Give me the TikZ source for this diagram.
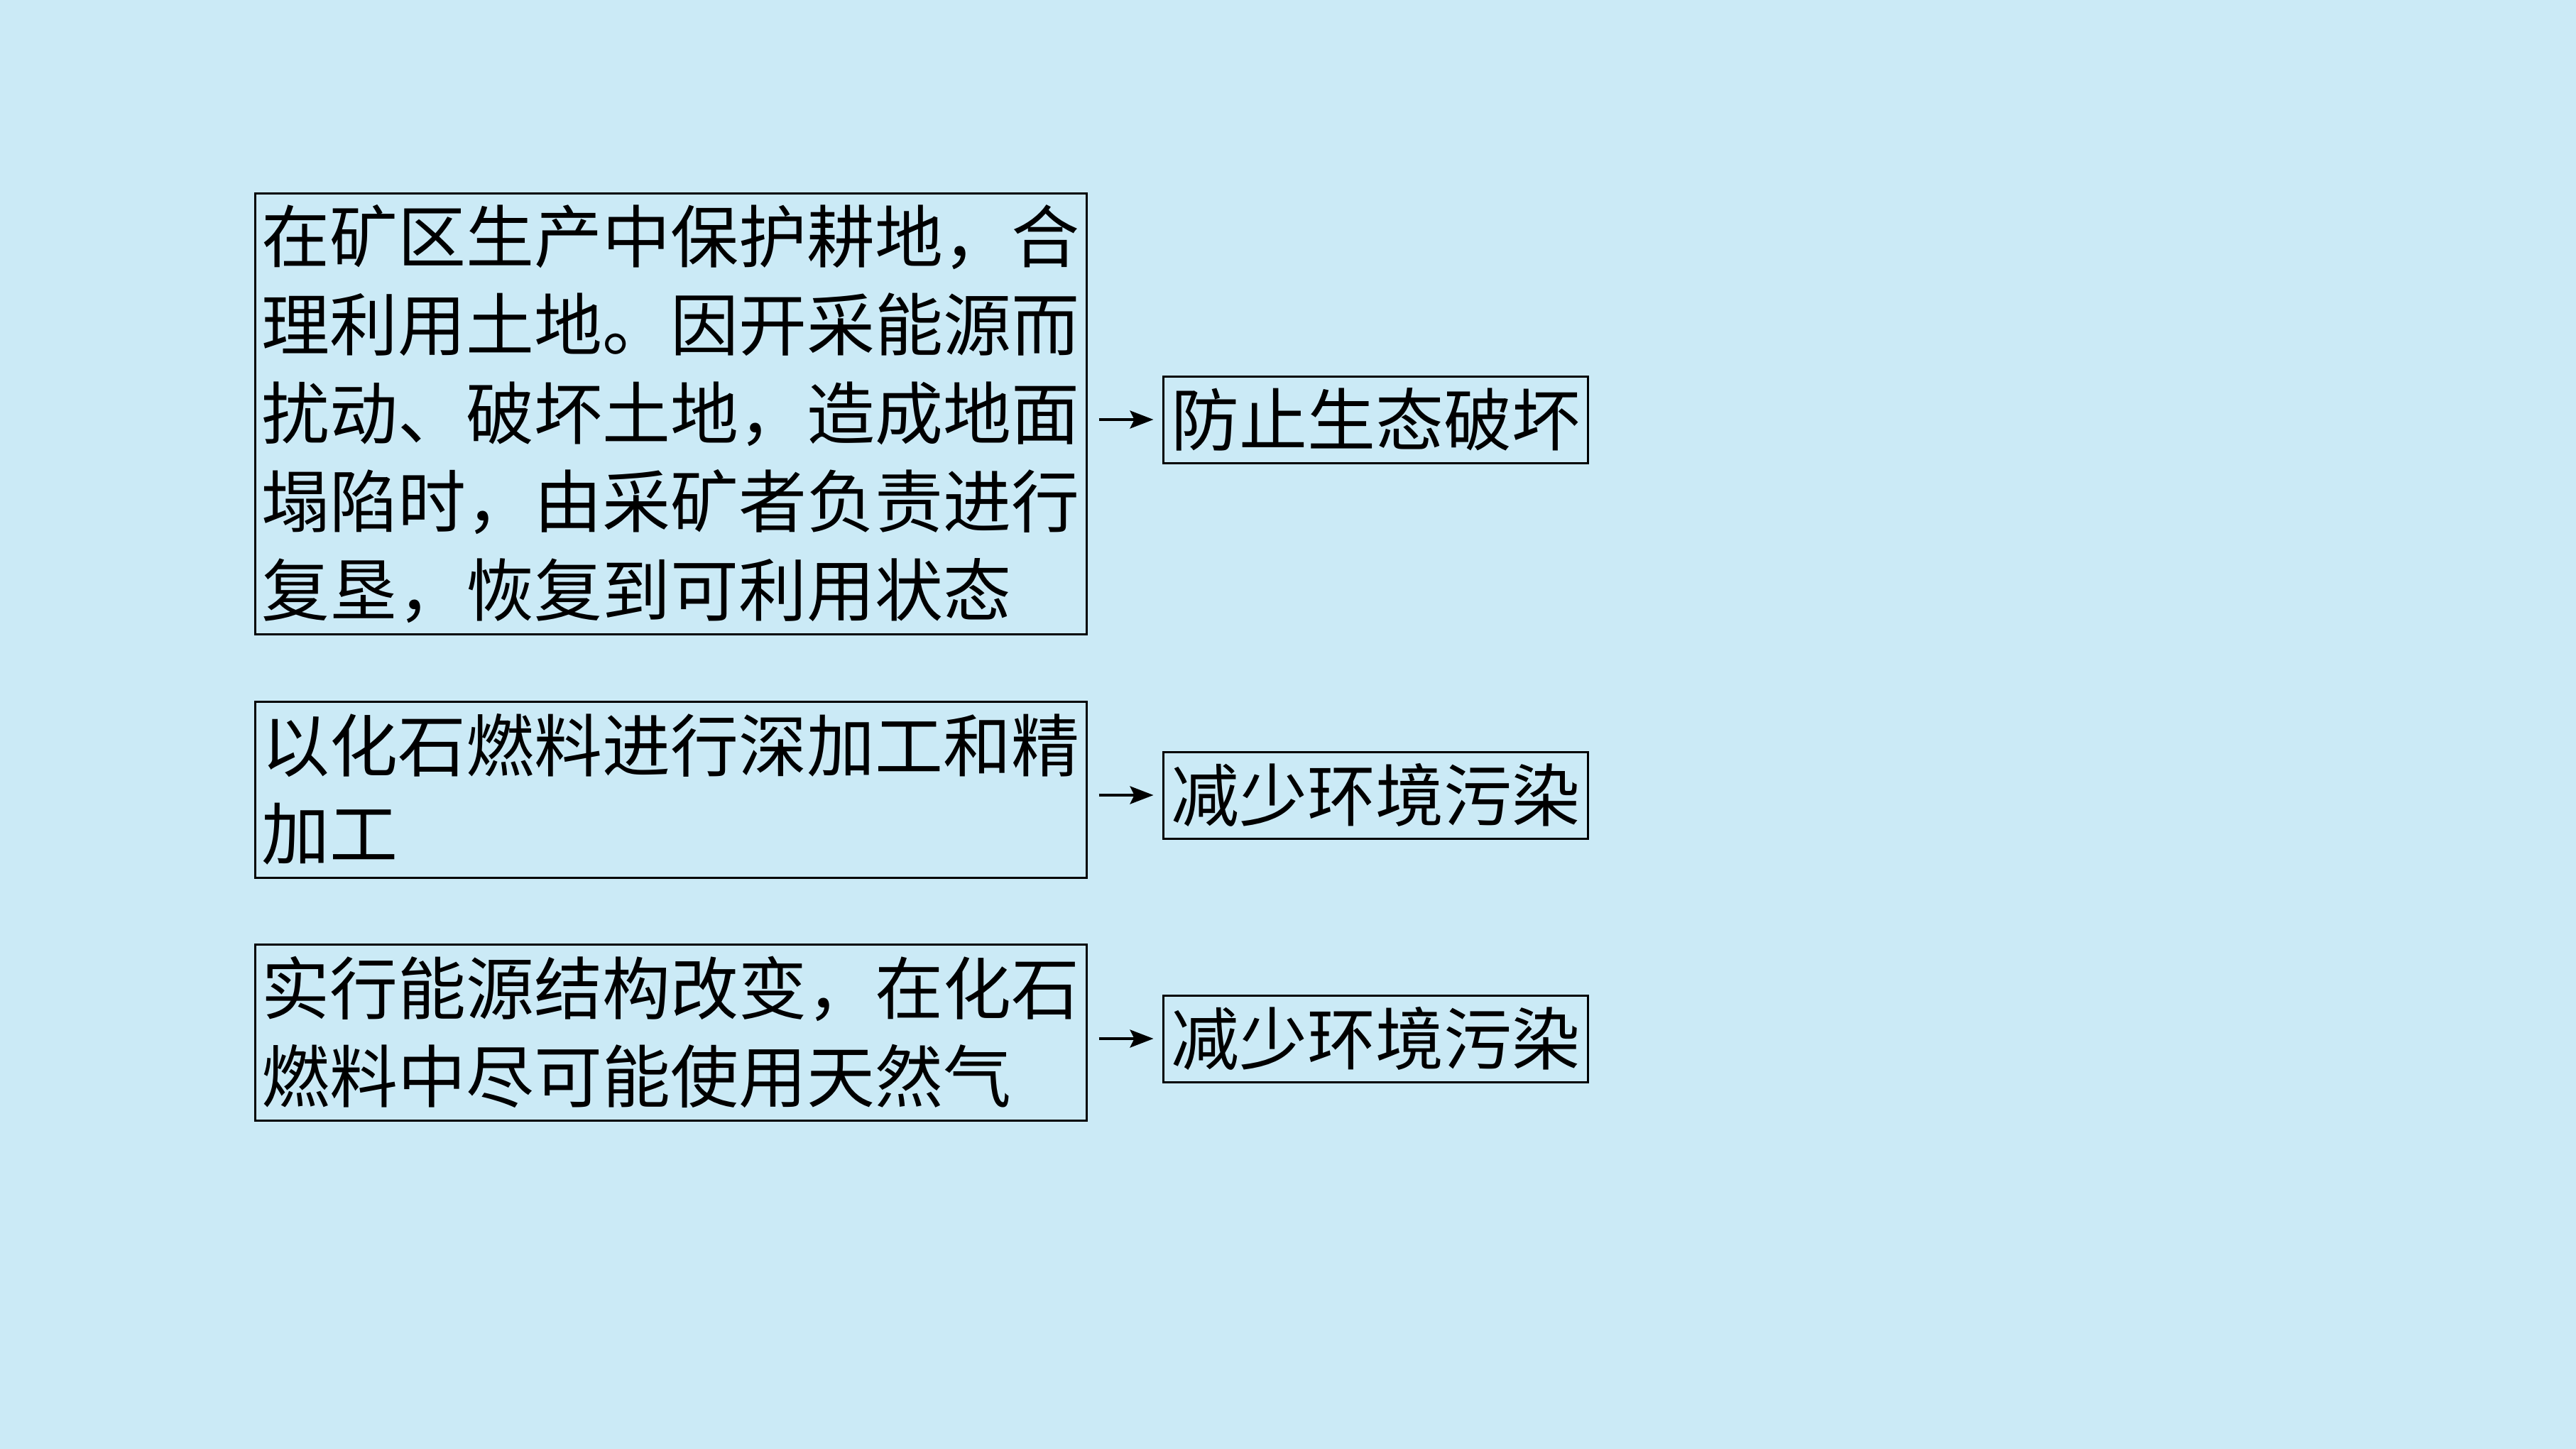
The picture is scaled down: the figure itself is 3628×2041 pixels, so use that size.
\documentclass[tikz,border=0pt]{standalone}
\usepackage{fontspec}
\newfontfamily\cjk{Noto Sans CJK SC}
\usetikzlibrary{arrows.meta}
\definecolor{bgblue}{RGB}{203,234,246}
\tikzset{
  leftbox/.style={draw=black, line width=3pt, font=\cjk\fontsize{96pt}{124.5pt}\selectfont,
    text width=1152pt, align=left, inner xsep=9.5pt, inner ysep=0pt, minimum width=1171pt, anchor=center},
  rightbox/.style={draw=black, line width=3pt, font=\cjk\fontsize{96pt}{124.5pt}\selectfont,
    minimum width=598pt, minimum height=122pt, inner sep=0pt, anchor=center},
  arr/.style={line width=4pt, -{Stealth[length=33pt,width=25pt,inset=6pt]}, shorten >=12pt}
}
\begin{document}
\begin{tikzpicture}[x=1pt,y=-1pt]
\fill[bgblue] (0,0) rectangle (3628,2041);
\useasboundingbox (0,0) rectangle (3628,2041);

\node[leftbox, minimum height=620pt] (a1) at (944.5,583)
  {在矿区生产中保护耕地，合\\理利用土地。因开采能源而\\扰动、破坏土地，造成地面\\塌陷时，由采矿者负责进行\\复垦，恢复到可利用状态};
\node[leftbox, minimum height=248pt] (a2) at (944.5,1112)
  {以化石燃料进行深加工和精\\加工};
\node[leftbox, minimum height=248pt] (a3) at (944.5,1454)
  {实行能源结构改变，在化石\\燃料中尽可能使用天然气};

\node[rightbox] (b1) at (1937,591) {防止生态破坏};
\node[rightbox] (b2) at (1937,1120) {减少环境污染};
\node[rightbox] (b3) at (1937,1463) {减少环境污染};

\draw[arr] ([xshift=16pt]a1.east |- b1.west) -- (b1.west);
\draw[arr] ([xshift=16pt]a2.east |- b2.west) -- (b2.west);
\draw[arr] ([xshift=16pt]a3.east |- b3.west) -- (b3.west);
\end{tikzpicture}
\end{document}
